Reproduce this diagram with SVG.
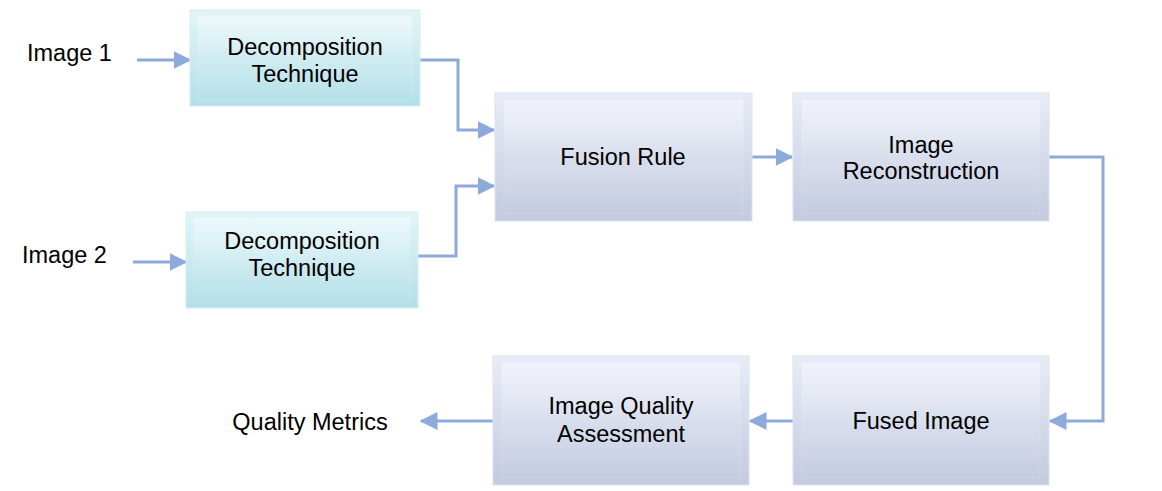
<svg xmlns="http://www.w3.org/2000/svg" width="1162" height="491" viewBox="0 0 1162 491">
<defs>
<linearGradient id="gc" x1="0" y1="0" x2="0" y2="1">
<stop offset="0" stop-color="#e2f5f9"/>
<stop offset="1" stop-color="#b3dfe7"/>
</linearGradient>
<linearGradient id="gb" x1="0" y1="0" x2="0" y2="1">
<stop offset="0" stop-color="#e8ecf7"/>
<stop offset="1" stop-color="#c2cadf"/>
</linearGradient>
<linearGradient id="hl" x1="0" y1="0" x2="0" y2="1">
<stop offset="0" stop-color="#ffffff" stop-opacity="0.4"/>
<stop offset="0.5" stop-color="#ffffff" stop-opacity="0.1"/>
<stop offset="1" stop-color="#ffffff" stop-opacity="0"/>
</linearGradient>
<marker id="ah" markerWidth="6" markerHeight="6" refX="5.5" refY="3" orient="auto" markerUnits="strokeWidth">
<path d="M0,0 L6,3 L0,6 z" fill="#8eaadb"/>
</marker>
</defs>
<style>
.t{font-family:"Liberation Sans",Arial,sans-serif;font-size:23.5px;fill:#000;text-anchor:middle}
.tl{font-family:"Liberation Sans",Arial,sans-serif;font-size:23.5px;fill:#000}
.c{fill:url(#gc);stroke:#d3eef3;stroke-width:1}
.b{fill:url(#gb);stroke:#dde2ef;stroke-width:1}
.in{fill:url(#hl);stroke:#ffffff;stroke-opacity:0.18;stroke-width:1}
.ln{fill:none;stroke:#8eaadb;stroke-width:3;marker-end:url(#ah)}
</style>
<g id="connectors">
<path class="ln" d="M137,60 L190,60"/>
<path class="ln" d="M133,262 L186,262"/>
<path class="ln" d="M420,60 L458,60 L458,130 L494,130"/>
<path class="ln" d="M418,256 L456,256 L456,186 L494,186"/>
<path class="ln" d="M752,157 L792,157"/>
<path class="ln" d="M1049,157 L1103,157 L1103,421 L1050,421"/>
<path class="ln" d="M793,421 L750,421"/>
<path class="ln" d="M493,421 L421,421"/>
</g>
<g id="label-image1"><text class="tl" x="27" y="61">Image 1</text></g>
<g id="label-image2"><text class="tl" x="22" y="263">Image 2</text></g>
<g id="label-quality"><text class="t" x="310" y="430">Quality Metrics</text></g>
<g id="decomp1">
<rect class="c" x="190" y="10" width="230" height="96"/>
<rect class="in" x="198" y="16" width="214" height="84"/>
<text class="t" x="305" y="55">Decomposition</text>
<text class="t" x="305" y="82">Technique</text>
</g>
<g id="decomp2">
<rect class="c" x="186" y="212" width="232" height="96"/>
<rect class="in" x="194" y="218" width="216" height="84"/>
<text class="t" x="302" y="249">Decomposition</text>
<text class="t" x="302" y="276">Technique</text>
</g>
<g id="fusion">
<rect class="b" x="495" y="93" width="257" height="128"/>
<rect class="in" x="504" y="100" width="239" height="114"/>
<text class="t" x="623" y="165">Fusion Rule</text>
</g>
<g id="reconstruction">
<rect class="b" x="793" y="93" width="256" height="128"/>
<rect class="in" x="802" y="100" width="238" height="114"/>
<text class="t" x="921" y="153">Image</text>
<text class="t" x="921" y="179">Reconstruction</text>
</g>
<g id="fused">
<rect class="b" x="793" y="356" width="256" height="129"/>
<rect class="in" x="802" y="363" width="238" height="115"/>
<text class="t" x="921" y="429">Fused Image</text>
</g>
<g id="iqa">
<rect class="b" x="493" y="356" width="256" height="129"/>
<rect class="in" x="502" y="363" width="238" height="115"/>
<text class="t" x="621" y="414">Image Quality</text>
<text class="t" x="621" y="442">Assessment</text>
</g>
</svg>
